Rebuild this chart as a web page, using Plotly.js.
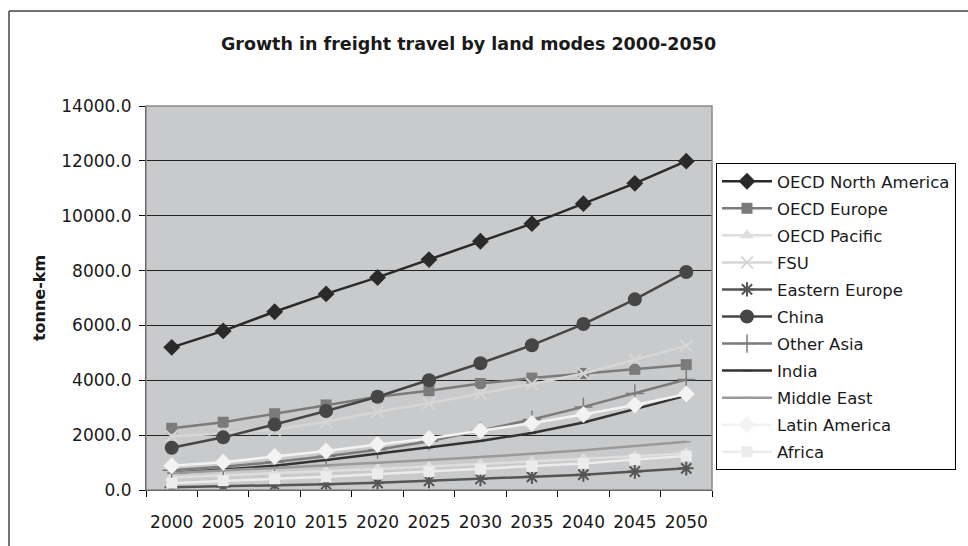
<!DOCTYPE html>
<html>
<head>
<meta charset="utf-8">
<script src="https://cdn.plot.ly/plotly-3.0.1.min.js"></script>
<style>
html,body{margin:0;padding:0;background:#fff;}
#chart{width:968px;height:546px;}
</style>
</head>
<body>
<div id="chart"></div>
<script>
const years = ['2000','2005','2010','2015','2020','2025','2030','2035','2040','2045','2050'];
const seriesNames = ['OECD North America','OECD Europe','OECD Pacific','FSU','Eastern Europe','China','Other Asia','India','Middle East','Latin America','Africa'];
const oecdNorthAmerica = [5200, 5800, 6500, 7150, 7750, 8400, 9070, 9710, 10440, 11180, 11990];
const oecdEurope       = [2250, 2470, 2780, 3100, 3400, 3620, 3880, 4080, 4250, 4400, 4570];
const oecdPacific      = [460, 530, 600, 690, 770, 860, 950, 1040, 1130, 1230, 1340];
const fsu              = [1950, 2060, 2200, 2490, 2850, 3160, 3520, 3860, 4250, 4750, 5250];
const easternEurope    = [100, 130, 170, 210, 260, 330, 400, 480, 560, 670, 790];
const china            = [1540, 1920, 2390, 2880, 3400, 4000, 4620, 5280, 6050, 6950, 7950];
const otherAsia        = [720, 850, 1020, 1230, 1470, 1780, 2170, 2570, 3030, 3520, 4030];
const india            = [620, 740, 880, 1090, 1320, 1550, 1790, 2080, 2460, 2950, 3440];
const middleEast       = [620, 710, 800, 880, 990, 1090, 1200, 1320, 1450, 1600, 1760];
const latinAmerica     = [880, 1010, 1220, 1420, 1660, 1880, 2160, 2430, 2750, 3100, 3500];
const africa           = [250, 340, 410, 480, 580, 670, 760, 860, 970, 1110, 1240];

const values = [oecdNorthAmerica, oecdEurope, oecdPacific, fsu, easternEurope, china, otherAsia, india, middleEast, latinAmerica, africa];
const styles = [
  {c:'#2a2a2a', sym:'diamond', size:13, lw:0},
  {c:'#7b7b7b', sym:'square', size:11, lw:0},
  {c:'#dedede', sym:'triangle-up', size:12, lw:0},
  {c:'#d6d6d6', sym:'x-thin-open', size:12, lw:2},
  {c:'#555555', sym:'asterisk-open', size:12, lw:2},
  {c:'#464646', sym:'circle', size:14, lw:0},
  {c:'#7b7b7b', sym:'cross-thin-open', size:13, lw:1.5},
  {c:'#333333', sym:'line-ew-open', size:6, lw:1.5},
  {c:'#9a9a9a', sym:'line-ew-open', size:6, lw:1.5},
  {c:'#f3f3f3', sym:'diamond', size:13, lw:0},
  {c:'#ececec', sym:'square', size:11, lw:0}
];

const traces = seriesNames.map((n,i)=>({
  type:'scatter', mode:'lines+markers', name:n, x:years, y:values[i],
  legendgroup:'g'+i,
  line:{color:styles[i].c, width:2.5},
  marker:{symbol:styles[i].sym, size:styles[i].size, color:styles[i].c,
          line:{color:styles[i].c, width:styles[i].lw}}
}));

const L=146, R=712, T=106, B=490;
const px = v => (v-L)/(R-L);
const py = v => (B-v)/(B-T);

const layout = {
  width:968, height:546,
  margin:{l:L, r:968-R, t:T, b:546-B, pad:0},
  paper_bgcolor:'#ffffff',
  plot_bgcolor:'#c9cacc',
  font:{family:'DejaVu Sans, Arial, sans-serif', size:16, color:'#1a1a1a'},
  title:{text:'<b>Growth in freight travel by land modes 2000-2050</b>', x:0.484, xanchor:'center', y:1-44/546, yanchor:'middle', font:{size:17.5, color:'#1a1a1a'}},
  showlegend:true,
  legend:{x:px(716), xanchor:'left', y:py(163), yanchor:'top', bgcolor:'#ffffff', bordercolor:'#000000', borderwidth:1,
          font:{size:16.5, color:'#1a1a1a'}, tracegroupgap:2.6, itemwidth:50},
  xaxis:{type:'category', range:[-0.5, 10.5], autorange:false, showgrid:false, showline:true, linecolor:'#000', linewidth:1,
         ticks:'outside', ticklen:6, tickcolor:'#000', tickson:'boundaries', tickangle:0,
         ticklabelstandoff:17,
         tickfont:{size:17}, zeroline:false, fixedrange:true},
  yaxis:{range:[0,14000], dtick:2000, tickformat:'.1f', showgrid:true, gridcolor:'#222', gridwidth:1,
         showline:true, linecolor:'#000', linewidth:1, ticks:'outside', ticklen:6, tickcolor:'#000',
         ticklabelstandoff:4,
         zeroline:false, tickfont:{size:17},
         title:{text:'<b>tonne-km</b>', font:{size:16}, standoff:11}},
  shapes:[
    {type:'rect', xref:'paper', yref:'paper', x0:0, x1:1, y0:0, y1:1, line:{color:'#8a8a8a', width:1.5}, layer:'above'},
    {type:'line', xref:'paper', yref:'paper', x0:px(9), x1:px(9), y0:py(560), y1:py(11), line:{color:'#444', width:1.5}},
    {type:'line', xref:'paper', yref:'paper', x0:px(9), x1:px(1000), y0:py(11), y1:py(11), line:{color:'#444', width:1.5}}
  ]
};

Plotly.newPlot('chart', traces, layout, {displayModeBar:false, staticPlot:true});
</script>
</body>
</html>
